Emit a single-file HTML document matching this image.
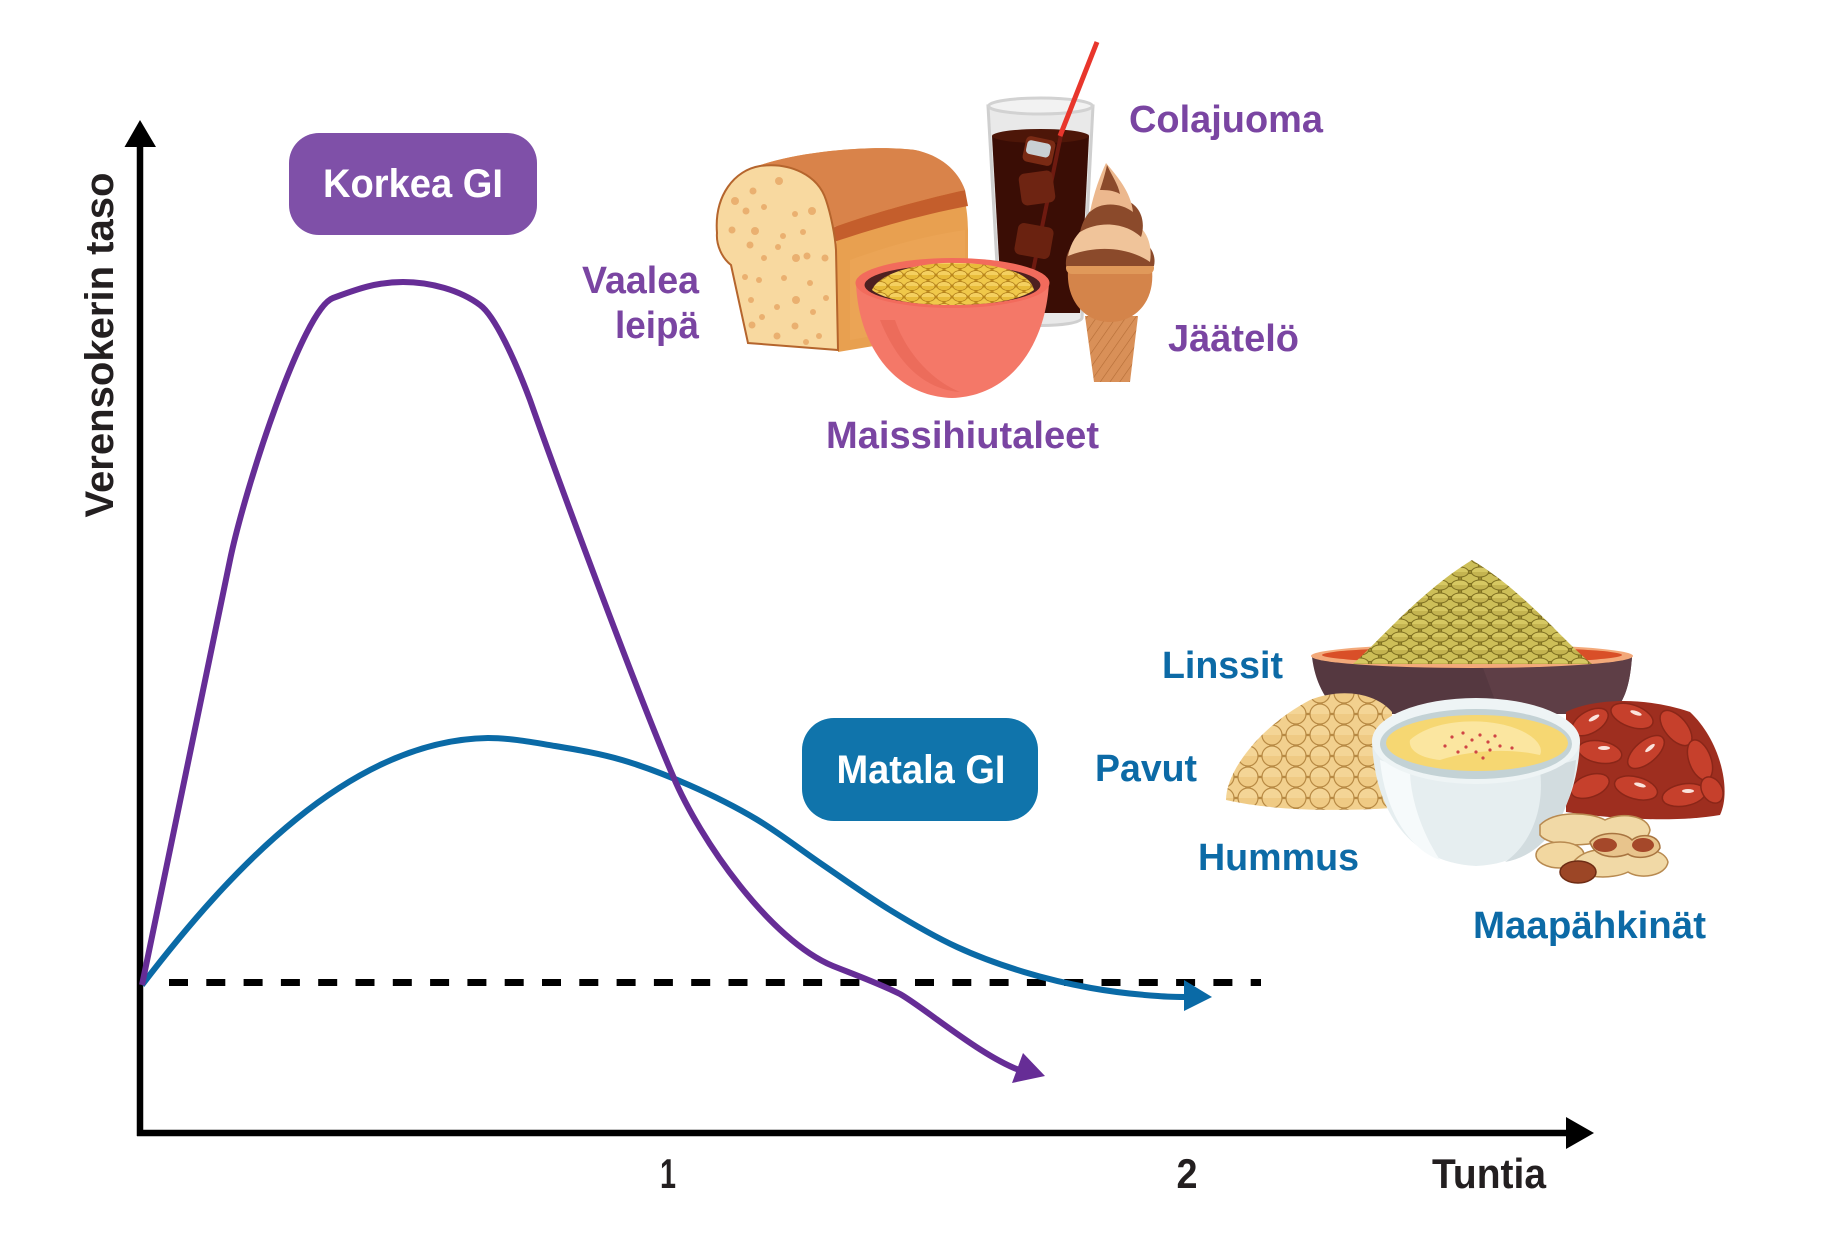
<!DOCTYPE html>
<html>
<head>
<meta charset="utf-8">
<style>
html,body{margin:0;padding:0;background:#fff;}
svg{display:block;}
text{font-family:"Liberation Sans",Arial,sans-serif;font-weight:bold;}
</style>
</head>
<body>
<svg width="1821" height="1244" viewBox="0 0 1821 1244" xmlns="http://www.w3.org/2000/svg">
<defs>
  <pattern id="lent" width="20" height="13" patternUnits="userSpaceOnUse">
    <rect width="20" height="13" fill="#9a8a2e"/>
    <ellipse cx="10" cy="6.5" rx="8.5" ry="5" fill="#cdbf58" stroke="#7f7022" stroke-width="1"/>
    <ellipse cx="0" cy="0" rx="8.5" ry="5" fill="#c4b450" stroke="#7f7022" stroke-width="1"/>
    <ellipse cx="20" cy="0" rx="8.5" ry="5" fill="#c4b450" stroke="#7f7022" stroke-width="1"/>
    <ellipse cx="0" cy="13" rx="8.5" ry="5" fill="#d6c862" stroke="#7f7022" stroke-width="1"/>
    <ellipse cx="20" cy="13" rx="8.5" ry="5" fill="#d6c862" stroke="#7f7022" stroke-width="1"/>
  </pattern>
  <pattern id="chick" width="24" height="21" patternUnits="userSpaceOnUse">
    <rect width="24" height="21" fill="#e2b46a"/>
    <circle cx="12" cy="10.5" r="10" fill="#f2d08e" stroke="#b88a44" stroke-width="1.2"/>
    <circle cx="0" cy="0" r="10" fill="#efca84" stroke="#b88a44" stroke-width="1.2"/>
    <circle cx="24" cy="0" r="10" fill="#efca84" stroke="#b88a44" stroke-width="1.2"/>
    <circle cx="0" cy="21" r="10" fill="#f4d596" stroke="#b88a44" stroke-width="1.2"/>
    <circle cx="24" cy="21" r="10" fill="#f4d596" stroke="#b88a44" stroke-width="1.2"/>
  </pattern>
  <pattern id="flake" width="16" height="11" patternUnits="userSpaceOnUse">
    <rect width="16" height="11" fill="#c8921e"/>
    <ellipse cx="8" cy="5.5" rx="7" ry="4.5" fill="#f0c84a" stroke="#b07d18" stroke-width="0.8"/>
    <ellipse cx="0" cy="0" rx="7" ry="4.5" fill="#e8bc3a" stroke="#b07d18" stroke-width="0.8"/>
    <ellipse cx="16" cy="0" rx="7" ry="4.5" fill="#e8bc3a" stroke="#b07d18" stroke-width="0.8"/>
    <ellipse cx="0" cy="11" rx="7" ry="4.5" fill="#f4d060" stroke="#b07d18" stroke-width="0.8"/>
    <ellipse cx="16" cy="11" rx="7" ry="4.5" fill="#f4d060" stroke="#b07d18" stroke-width="0.8"/>
  </pattern>
  <pattern id="waffle" width="8" height="8" patternUnits="userSpaceOnUse" patternTransform="rotate(35)">
    <rect width="8" height="8" fill="#d99058"/>
    <line x1="0" y1="0" x2="0" y2="8" stroke="#b46c36" stroke-width="1.2"/>
  </pattern>
</defs>

<!-- ===== Axes ===== -->
<line x1="140" y1="1136" x2="140" y2="144" stroke="#000" stroke-width="6.5"/>
<polygon points="124.5,147 156,147 140,120" fill="#000"/>
<line x1="137" y1="1133" x2="1570" y2="1133" stroke="#000" stroke-width="6.5"/>
<polygon points="1566,1117 1566,1149 1594,1133" fill="#000"/>

<!-- dashed baseline -->
<line x1="169" y1="982.5" x2="1261" y2="982.5" stroke="#000" stroke-width="7" stroke-dasharray="19 18.3"/>

<!-- ===== Blue (low GI) curve ===== -->
<path d="M142,985 C230,870 350,740 488,738 C510.3,738 532.7,742.3 555,746 C577.3,749.7 599.7,753.5 622,760 C644.3,766.5 666.7,775.2 689,785 C711.3,794.8 733.7,805.7 756,819 C778.3,832.3 800.7,849.8 823,865 C845.3,880.2 867.7,896.3 890,910 C912.3,923.7 934.7,936.7 957,947 C979.3,957.3 1001.7,965.2 1024,972 C1046.3,978.8 1068.7,984 1091,988 C1113.3,992 1135.7,994.5 1158,996 C1169,997 1180,997 1190,997" fill="none" stroke="#0a6aa6" stroke-width="6"/>
<polygon points="1184,980 1212,997 1184,1011" fill="#0a6aa6"/>

<!-- ===== Purple (high GI) curve ===== -->
<path d="M142,985 C157,913 215,632 230,560 C245,488 303,309 333,298 C355,290 375,282 403,282 C430,282 460,290 480,305 C495,316 515,360 530,400 C560,485 640,700 673,776 C700,840 770,940 833,966 C853,974 878,983 900,994 C925,1008 985,1060 1025,1072" fill="none" stroke="#662d96" stroke-width="6"/>
<polygon points="1023,1053 1045,1076 1012,1083" fill="#662d96"/>

<!-- ===== Labels boxes ===== -->
<rect x="289" y="133" width="248" height="102" rx="30" ry="30" fill="#7f50a8"/>
<text x="413" y="197" font-size="40" fill="#fff" text-anchor="middle" textLength="180" lengthAdjust="spacingAndGlyphs">Korkea GI</text>
<rect x="802" y="718" width="236" height="103" rx="32" ry="32" fill="#1074ab"/>
<text x="921" y="783" font-size="40" fill="#fff" text-anchor="middle" textLength="169" lengthAdjust="spacingAndGlyphs">Matala GI</text>

<!-- axis titles -->
<text transform="translate(113,345) rotate(-90)" font-size="40" fill="#231f20" text-anchor="middle" textLength="345" lengthAdjust="spacingAndGlyphs">Verensokerin taso</text>
<text x="668" y="1188" font-size="42" fill="#231f20" text-anchor="middle" textLength="16" lengthAdjust="spacingAndGlyphs">1</text>
<text x="1187" y="1188" font-size="42" fill="#231f20" text-anchor="middle" textLength="21" lengthAdjust="spacingAndGlyphs">2</text>
<text x="1432" y="1188" font-size="42" fill="#231f20" textLength="114" lengthAdjust="spacingAndGlyphs">Tuntia</text>

<!-- ===== High GI foods ===== -->
<!-- cola glass -->
<path d="M988,106 L1000,318 C1003,328 1079,328 1082,318 L1093,106 Z" fill="#e9e9e9" stroke="#cfcfcf" stroke-width="3"/>
<ellipse cx="1040.5" cy="106" rx="52" ry="8" fill="#f2f2f2" stroke="#d2d2d2" stroke-width="3"/>
<path d="M992,136 L1002,313 L1080,313 L1089,136 Z" fill="#3a0d05"/>
<ellipse cx="1040.5" cy="136" rx="48.5" ry="7" fill="#4d1608"/>
<line x1="1062" y1="130" x2="1028" y2="295" stroke="#6e1a10" stroke-width="4"/>
<rect x="1024" y="138" width="30" height="26" rx="5" fill="#7a2a14" transform="rotate(12 1039 151)"/>
<rect x="1026" y="142" width="24" height="14" rx="4" fill="#c9d0d4" transform="rotate(12 1039 151)"/>
<rect x="1020" y="172" width="34" height="32" rx="6" fill="#6e2412" transform="rotate(-8 1037 188)"/>
<rect x="1016" y="225" width="36" height="32" rx="6" fill="#6a2210" transform="rotate(10 1034 241)"/>
<line x1="1097" y1="42" x2="1060" y2="136" stroke="#e8362c" stroke-width="5"/>

<!-- ice cream -->
<path d="M1085,316 L1138,316 L1130,382 L1094,382 Z" fill="url(#waffle)"/>
<path d="M1068,270 C1066,302 1086,322 1110,322 C1135,322 1155,302 1152,270 Z" fill="#d4844a"/>
<rect x="1066" y="262" width="88" height="12" rx="6" fill="#e0995a"/>
<path d="M1066,266 C1064,244 1085,232 1110,232 C1140,232 1158,248 1154,266 Z" fill="#8b4a2b"/>
<path d="M1068,256 C1074,226 1100,214 1125,219 C1146,224 1153,244 1150,262 C1130,248 1098,244 1068,256 Z" fill="#f0c49a"/>
<path d="M1080,232 C1086,206 1106,196 1125,200 C1141,205 1146,222 1141,237 C1126,223 1100,220 1080,232 Z" fill="#8b4a2b"/>
<path d="M1090,212 C1094,192 1100,176 1106,163 C1117,176 1131,192 1133,212 C1120,202 1100,202 1090,212 Z" fill="#ecb88e"/>
<path d="M1100,190 C1104,178 1106,170 1107,165 C1112,176 1118,184 1120,194 C1113,190 1106,190 1100,190 Z" fill="#8b4a2b"/>

<!-- bread -->
<path d="M755,167 C800,150 880,145 915,150 C950,158 968,185 968,230 L968,330 L838,352 L836,220 C830,195 800,175 760,166 Z" fill="#e8a050"/>
<path d="M755,167 C800,150 880,145 915,150 C940,155 958,170 965,190 C920,200 870,214 832,228 C828,200 800,175 760,166 Z" fill="#d9834a"/>
<path d="M832,228 C870,214 920,200 965,190 L968,206 C925,214 875,228 834,242 Z" fill="#c45e2c"/>
<path d="M850,260 C890,245 930,235 965,230 L965,320 L850,340 Z" fill="#eba556" opacity="0.8"/>
<path d="M717,233 C714,195 735,170 760,166 C790,162 818,175 826,200 C831,215 835,235 836,250 L838,350 L748,343 L731,265 C722,258 716,245 717,233 Z" fill="#f8d9a0" stroke="#b5652d" stroke-width="2"/>
<g fill="#eab070">
  <circle cx="779" cy="181" r="4"/><circle cx="753" cy="191" r="3.5"/><circle cx="735" cy="201" r="4"/>
  <circle cx="764" cy="207" r="3"/><circle cx="746" cy="211" r="3.5"/><circle cx="795" cy="214" r="3"/>
  <circle cx="812" cy="211" r="4"/><circle cx="732" cy="230" r="3.5"/><circle cx="755" cy="231" r="4"/>
  <circle cx="783" cy="236" r="3"/><circle cx="803" cy="232" r="3"/><circle cx="750" cy="245" r="3.5"/>
  <circle cx="778" cy="247" r="3"/><circle cx="796" cy="258" r="4"/><circle cx="807" cy="256" r="3.5"/>
  <circle cx="825" cy="258" r="3.5"/><circle cx="764" cy="258" r="3"/><circle cx="745" cy="277" r="3"/>
  <circle cx="759" cy="280" r="3"/><circle cx="784" cy="278" r="3"/><circle cx="810" cy="283" r="3"/>
  <circle cx="751" cy="300" r="3"/><circle cx="796" cy="300" r="4"/><circle cx="826" cy="298" r="3"/>
  <circle cx="762" cy="317" r="3"/><circle cx="777" cy="307" r="3"/><circle cx="813" cy="312" r="3"/>
  <circle cx="752" cy="325" r="3.5"/><circle cx="795" cy="326" r="3.5"/><circle cx="777" cy="336" r="3.5"/>
  <circle cx="806" cy="342" r="3"/><circle cx="819" cy="336" r="3"/>
</g>

<!-- cereal bowl -->
<path d="M856,283 C858,340 890,396 952,398 C1014,396 1046,340 1049,283 Z" fill="#f47868"/>
<path d="M880,320 C900,370 930,390 960,392 C930,380 905,350 895,320 Z" fill="#e86656" opacity="0.7"/>
<ellipse cx="952.5" cy="283" rx="97" ry="25" fill="#f26b5c"/>
<ellipse cx="952.5" cy="285" rx="88" ry="20" fill="#4e2020"/>
<path d="M872,290 C880,270 930,262 955,263 C990,263 1030,270 1034,290 C1020,300 990,305 952,305 C915,305 885,300 872,290 Z" fill="url(#flake)"/>

<!-- labels purple -->
<g fill="#7a45a2">
<text x="699" y="293" font-size="38" text-anchor="end" textLength="117" lengthAdjust="spacingAndGlyphs">Vaalea</text>
<text x="699" y="338" font-size="38" text-anchor="end" textLength="84" lengthAdjust="spacingAndGlyphs">leipä</text>
<text x="826" y="448" font-size="38" textLength="273" lengthAdjust="spacingAndGlyphs">Maissihiutaleet</text>
<text x="1129" y="132" font-size="38" textLength="194" lengthAdjust="spacingAndGlyphs">Colajuoma</text>
<text x="1168" y="351" font-size="38" textLength="131" lengthAdjust="spacingAndGlyphs">Jäätelö</text>
</g>

<!-- ===== Low GI foods ===== -->
<!-- lentil bowl -->
<path d="M1312,657 C1315,682 1325,700 1340,714 L1612,714 C1626,700 1630,682 1632,657 Z" fill="#553840"/>
<path d="M1480,660 L1632,657 C1630,682 1626,700 1612,714 L1500,714 Z" fill="#5e3e46"/>
<ellipse cx="1472" cy="656" rx="161" ry="12" fill="#f3a97a"/>
<ellipse cx="1472" cy="655" rx="150" ry="8" fill="#d94f28"/>
<path d="M1353,664 C1380,640 1420,592 1472,560 C1525,592 1562,640 1592,664 Z" fill="url(#lent)"/>

<!-- chickpeas -->
<path d="M1226,800 C1226,770 1262,725 1310,700 C1340,688 1375,692 1392,712 L1392,808 C1330,812 1270,810 1226,800 Z" fill="url(#chick)"/>

<!-- kidney beans -->
<path d="M1566,712 C1590,700 1640,695 1690,712 C1720,740 1732,790 1720,815 C1680,822 1620,820 1566,812 Z" fill="#9e2e1f"/>
<g fill="#c6402c" stroke="#8a2618" stroke-width="1.5">
  <ellipse cx="1590" cy="722" rx="20" ry="11" transform="rotate(-30 1590 722)"/>
  <ellipse cx="1632" cy="716" rx="22" ry="11" transform="rotate(20 1632 716)"/>
  <ellipse cx="1676" cy="728" rx="21" ry="11" transform="rotate(50 1676 728)"/>
  <ellipse cx="1600" cy="752" rx="22" ry="11" transform="rotate(10 1600 752)"/>
  <ellipse cx="1646" cy="752" rx="22" ry="11" transform="rotate(-40 1646 752)"/>
  <ellipse cx="1700" cy="760" rx="21" ry="11" transform="rotate(70 1700 760)"/>
  <ellipse cx="1590" cy="786" rx="20" ry="11" transform="rotate(-20 1590 786)"/>
  <ellipse cx="1636" cy="788" rx="22" ry="11" transform="rotate(15 1636 788)"/>
  <ellipse cx="1684" cy="795" rx="22" ry="11" transform="rotate(-10 1684 795)"/>
  <ellipse cx="1712" cy="790" rx="14" ry="10" transform="rotate(60 1712 790)"/>
</g>
<g fill="#fbe3dc">
  <ellipse cx="1594" cy="718" rx="6" ry="2" transform="rotate(-30 1594 718)"/>
  <ellipse cx="1636" cy="713" rx="6" ry="2" transform="rotate(20 1636 713)"/>
  <ellipse cx="1650" cy="748" rx="6" ry="2" transform="rotate(-40 1650 748)"/>
  <ellipse cx="1604" cy="748" rx="6" ry="2"/>
  <ellipse cx="1640" cy="785" rx="6" ry="2" transform="rotate(15 1640 785)"/>
  <ellipse cx="1688" cy="791" rx="6" ry="2"/>
</g>

<!-- hummus bowl -->
<path d="M1372,742 C1375,812 1410,863 1476,866 C1542,863 1577,812 1580,742 Z" fill="#e6eef0"/>
<path d="M1380,760 C1385,812 1410,850 1440,860 C1420,830 1410,795 1410,770 Z" fill="#f6fafb"/>
<path d="M1540,770 C1545,810 1530,845 1505,862 C1545,855 1572,815 1576,760 Z" fill="#d2dcdf"/>
<ellipse cx="1476" cy="741" rx="104" ry="43" fill="#eef4f5"/>
<ellipse cx="1476" cy="744" rx="96" ry="35" fill="#c3d2d5"/>
<ellipse cx="1477" cy="743" rx="91" ry="28" fill="#f6d772"/>
<path d="M1410,740 C1430,722 1470,718 1500,724 C1530,730 1545,745 1540,755 C1510,748 1470,750 1440,760 C1420,758 1408,750 1410,740 Z" fill="#fbe6a0"/>
<g fill="#d04545">
  <circle cx="1452" cy="737" r="1.6"/><circle cx="1463" cy="733" r="1.6"/><circle cx="1472" cy="740" r="1.6"/>
  <circle cx="1480" cy="735" r="1.6"/><circle cx="1488" cy="742" r="1.6"/><circle cx="1495" cy="736" r="1.6"/>
  <circle cx="1466" cy="747" r="1.6"/><circle cx="1458" cy="752" r="1.6"/><circle cx="1476" cy="752" r="1.6"/>
  <circle cx="1490" cy="750" r="1.6"/><circle cx="1500" cy="746" r="1.6"/><circle cx="1512" cy="748" r="1.6"/>
  <circle cx="1445" cy="746" r="1.6"/><circle cx="1483" cy="758" r="1.6"/>
</g>

<!-- peanuts -->
<g stroke="#b88a50" stroke-width="1.5">
  <path d="M1540,825 C1555,810 1590,812 1605,820 C1620,812 1648,815 1650,830 C1648,845 1620,845 1605,840 C1585,848 1548,846 1540,835 Z" fill="#f1d9a6"/>
  <ellipse cx="1560" cy="855" rx="24" ry="13" fill="#f2d7a0"/>
  <path d="M1575,860 C1590,845 1620,848 1630,855 C1645,846 1665,850 1668,862 C1666,876 1640,880 1628,872 C1612,880 1580,878 1575,868 Z" fill="#f1d9a6"/>
  <ellipse cx="1578" cy="872" rx="18" ry="11" fill="#9c4626" stroke="#6e2c14"/>
</g>
<path d="M1590,842 C1600,830 1625,832 1632,840 C1642,832 1660,835 1660,848 C1655,858 1636,860 1628,854 C1612,860 1594,856 1590,842 Z" fill="#e8c48c" stroke="#a87440" stroke-width="1.5"/>
<ellipse cx="1605" cy="845" rx="12" ry="7" fill="#a5482a"/>
<ellipse cx="1643" cy="845" rx="11" ry="7" fill="#a5482a"/>

<!-- labels blue -->
<g fill="#0c6aa6">
<text x="1162" y="678" font-size="38" textLength="121" lengthAdjust="spacingAndGlyphs">Linssit</text>
<text x="1095" y="781" font-size="38" textLength="102" lengthAdjust="spacingAndGlyphs">Pavut</text>
<text x="1198" y="870" font-size="38" textLength="161" lengthAdjust="spacingAndGlyphs">Hummus</text>
<text x="1473" y="938" font-size="38" textLength="233" lengthAdjust="spacingAndGlyphs">Maapähkinät</text>
</g>
</svg>
</body>
</html>
